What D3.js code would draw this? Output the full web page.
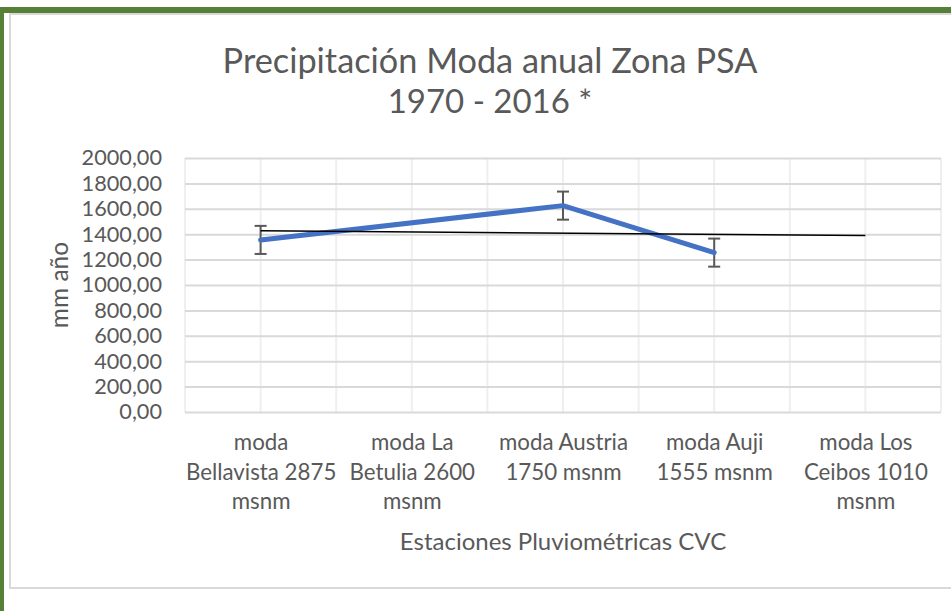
<!DOCTYPE html>
<html>
<head>
<meta charset="utf-8">
<script src="https://cdn.jsdelivr.net/npm/d3@7"></script>
<style>
  body { margin: 0; background: #fff; }
  text { font-family: Lato, "Open Sans", sans-serif; fill: #595959; }
</style>
</head>
<body>
<script>
// data
const categories = ['moda Bellavista 2875 msnm', 'moda La Betulia 2600 msnm', 'moda Austria 1750 msnm', 'moda Auji 1555 msnm', 'moda Los Ceibos 1010 msnm']
const categoryLines = [
    ['moda', 'Bellavista 2875', 'msnm'],
    ['moda La', 'Betulia 2600', 'msnm'],
    ['moda Austria', '1750 msnm'],
    ['moda Auji', '1555 msnm'],
    ['moda Los', 'Ceibos 1010', 'msnm']
]
const values = [1355, null, 1625, 1255, null]
const yTicks = [0, 200, 400, 600, 800, 1000, 1200, 1400, 1600, 1800, 2000]

function main(){
    var width = 951;
    var height = 611;
    const plot = { left: 185, right: 941, top: 158, bottom: 412 }

    let svg = d3.select('body')
        .append('svg')
        .attr('width', width)
        .attr('height', height)

    // outer frame (green) and chart area border
    svg.append('rect').attr('x', 0).attr('y', 7).attr('width', width).attr('height', 6).attr('fill', '#558036')
    svg.append('rect').attr('x', 0).attr('y', 7).attr('width', 4).attr('height', height).attr('fill', '#558036')
    svg.append('rect').attr('x', 10).attr('y', 14).attr('width', width + 20).attr('height', 574)
        .attr('fill', 'white').attr('stroke', '#d9d9d9').attr('stroke-width', 2)

    let xBand = d3.scaleBand()
        .domain(categories)
        .range([plot.left, plot.right])
    let xScale = d3.scalePoint()
        .domain(categories)
        .range([plot.left, plot.right])
        .padding(0.5)
    let yScale = d3.scaleLinear()
        .domain([0, 2000])
        .range([plot.bottom, plot.top])

    // vertical gridlines at category edges and centres
    let vLines = categories.map(c => xBand(c)).concat(categories.map(c => xScale(c)))
    vLines.push(plot.right)
    svg.append('g').selectAll('line')
        .data(vLines)
        .enter()
        .append('line')
        .attr('x1', d => d).attr('x2', d => d)
        .attr('y1', plot.top).attr('y2', plot.bottom)
        .attr('stroke', '#efefef')
        .attr('stroke-width', 2)

    let fmt = d => d3.format('.2f')(d).replace('.', ',')
    let yAxis = svg.append('g')
        .attr('transform', `translate(${plot.left},0)`)
        .call(d3.axisLeft(yScale)
            .tickValues(yTicks)
            .tickFormat(fmt)
            .tickSizeInner(-(plot.right - plot.left))
            .tickSizeOuter(0)
            .tickPadding(23))
    yAxis.select('.domain').remove()
    yAxis.selectAll('line').attr('stroke', '#d9d9d9').attr('stroke-width', 2)
    yAxis.selectAll('text')
        .attr('font-size', '21.7px')
        .attr('fill', '#595959')
        .attr('font-family', 'Lato')

    let xAxis = svg.append('g')
        .attr('transform', `translate(0,${plot.bottom})`)
        .call(d3.axisBottom(xScale).tickSize(0).tickFormat(''))
    xAxis.select('.domain').remove()
    xAxis.selectAll('.tick').each(function (d, i){
        let t = d3.select(this).append('text')
            .attr('text-anchor', 'middle')
            .attr('font-size', '22.3px')
            .attr('fill', '#595959')
        categoryLines[i].forEach((line, j) => {
            t.append('tspan').attr('x', 0).attr('y', 38 + j * 29.5).text(line)
        })
    })

    // series line (gaps connected)
    let pts = categories.map((c, i) => ({ c: c, i: i, v: values[i] })).filter(d => d.v !== null)
    let line = d3.line().x(d => xScale(d.c)).y(d => yScale(d.v))

    // linear trendline on category index 1..n
    let xs = pts.map(d => d.i + 1), ys = pts.map(d => d.v)
    let mx = d3.mean(xs), my = d3.mean(ys)
    let slope = d3.sum(xs.map((x, k) => (x - mx) * (ys[k] - my))) / d3.sum(xs.map(x => (x - mx) ** 2))
    let trend = [0, categories.length - 1].map(i => ({ c: categories[i], v: my + slope * (i + 1 - mx) }))

    // standard error bars
    let se = d3.deviation(ys) / Math.sqrt(ys.length)
    let eb = svg.append('g').attr('stroke', '#595959').attr('stroke-width', 2)
    pts.forEach(d => {
        let x = xScale(d.c)
        eb.append('line').attr('x1', x).attr('x2', x).attr('y1', yScale(d.v - se)).attr('y2', yScale(d.v + se))
        eb.append('line').attr('x1', x - 6).attr('x2', x + 6).attr('y1', yScale(d.v - se)).attr('y2', yScale(d.v - se))
        eb.append('line').attr('x1', x - 6).attr('x2', x + 6).attr('y1', yScale(d.v + se)).attr('y2', yScale(d.v + se))
    })

    svg.append('path')
        .datum(pts)
        .attr('d', line)
        .attr('fill', 'none')
        .attr('stroke', '#4472c4')
        .attr('stroke-width', 5)
        .attr('stroke-linejoin', 'round')
        .attr('stroke-linecap', 'round')

    svg.append('path')
        .datum(trend)
        .attr('d', line)
        .attr('fill', 'none')
        .attr('stroke', '#000')
        .attr('stroke-width', 1.5)

    svg.append('text')
        .attr('x', 490)
        .attr('y', 73)
        .attr('text-anchor', 'middle')
        .attr('font-size', '34.3px')
        .text('Precipitación Moda anual Zona PSA')
    svg.append('text')
        .attr('x', 490)
        .attr('y', 113)
        .attr('text-anchor', 'middle')
        .attr('font-size', '33px')
        .text('1970 - 2016 *')

    svg.append('text')
        .attr('transform', 'translate(68,285) rotate(-90)')
        .attr('text-anchor', 'middle')
        .attr('font-size', '24.5px')
        .text('mm año')

    svg.append('text')
        .attr('x', 563)
        .attr('y', 550)
        .attr('text-anchor', 'middle')
        .attr('font-size', '24px')
        .text('Estaciones Pluviométricas CVC')
}

main()
</script>
</body>
</html>
